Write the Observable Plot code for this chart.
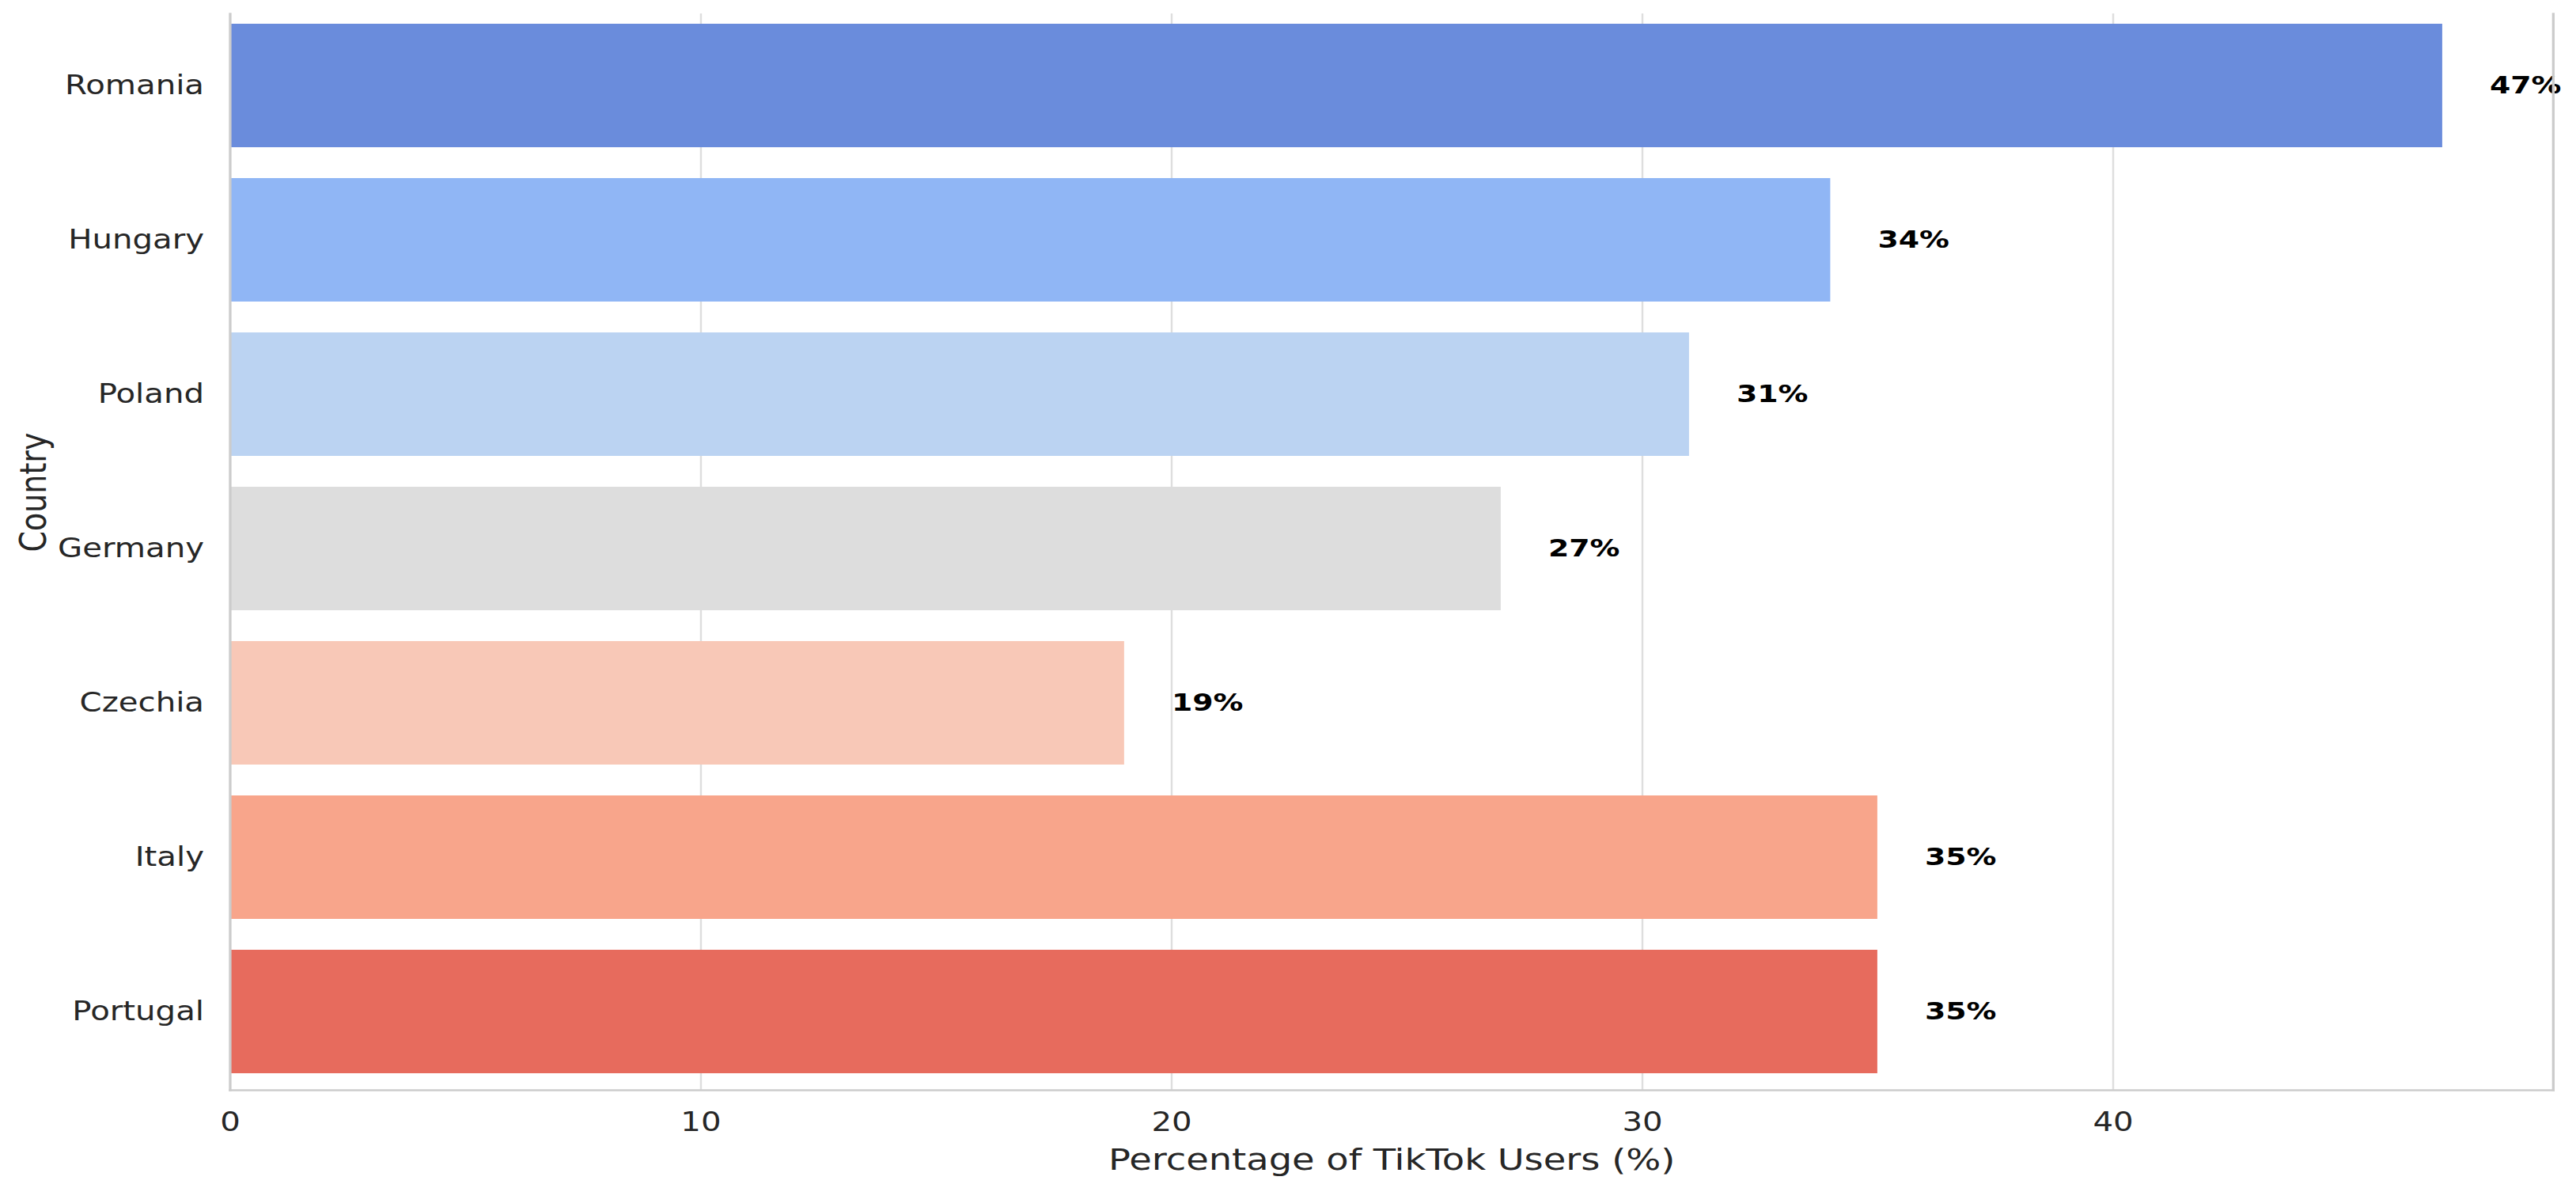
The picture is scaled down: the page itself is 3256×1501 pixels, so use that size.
<!DOCTYPE html>
<html>
<head>
<meta charset="utf-8">
<script src="https://cdn.jsdelivr.net/npm/d3@7"></script>
<script src="https://cdn.jsdelivr.net/npm/@observablehq/plot@0.6"></script>
<style>
  html, body { margin: 0; padding: 0; background: white; }
  #chart svg { display: block; }
</style>
</head>
<body>
<div id="chart"></div>
<script>
const countries = ["Romania", "Hungary", "Poland", "Germany", "Czechia", "Italy", "Portugal"];
const values = [47, 34, 31, 27, 19, 35, 35];
const colors = ["#6a8cdc", "#90b6f5", "#bbd3f2", "#dddddd", "#f8c8b7", "#f8a58b", "#e76b5d"];
const xTicks = [0, 10, 20, 30, 40];
const xLabel = "Percentage of TikTok Users (%)";
const yLabel = "Country";

const data = countries.map((c, i) => ({country: c, value: values[i]}));

// The reference is horizontally stretched; draw at a narrower internal width and stretch.
const OUT_W = 3256, OUT_H = 1501;
const S = 1.22;
const W = Math.round(OUT_W / S);

const spine = {stroke: "#cccccc", strokeWidth: 2.7};

const chart = Plot.plot({
  width: W,
  height: OUT_H,
  marginLeft: 238,
  marginRight: W - 2645,
  marginTop: 17,
  marginBottom: OUT_H - 1377,
  style: {background: "white", fontFamily: "DejaVu Sans", color: "#262626"},
  x: {domain: [0, 49.35]},
  y: {domain: countries, range: [10, 1376], paddingInner: 0.2, paddingOuter: 0.1},
  color: {domain: countries, range: colors},
  marks: [
    Plot.gridX(xTicks.filter(t => t > 0), {stroke: "#dedede", strokeOpacity: 1, strokeWidth: 2}),
    Plot.barX(data, {x: "value", y: "country", fill: "country"}),
    Plot.text(data, {x: d => d.value + 1, y: "country", text: d => d.value + "%", textAnchor: "start",
      fontWeight: "bold", fontSize: 31, fill: "black"}),
    Plot.frame({anchor: "left", ...spine}),
    Plot.frame({anchor: "right", ...spine}),
    Plot.frame({anchor: "bottom", ...spine}),
    Plot.axisX({ticks: xTicks, tickSize: 0, tickPadding: 28, fontSize: 33, label: null, fill: "#262626"}),
    Plot.axisY({tickSize: 0, tickPadding: 27, fontSize: 33, label: null, fill: "#262626"}),
    Plot.text([xLabel], {frameAnchor: "bottom", dy: 100, fontSize: 38, fill: "#262626"}),
    Plot.text([yLabel], {frameAnchor: "left", dx: -203, rotate: -90, fontSize: 38, fill: "#262626"})
  ]
});

chart.setAttribute("width", OUT_W);
chart.setAttribute("height", OUT_H);
chart.setAttribute("viewBox", `0 0 ${W} ${OUT_H}`);
chart.setAttribute("preserveAspectRatio", "none");
chart.style.width = OUT_W + "px";
chart.style.height = OUT_H + "px";
chart.style.maxWidth = "none";
document.getElementById("chart").appendChild(chart);
</script>
</body>
</html>
